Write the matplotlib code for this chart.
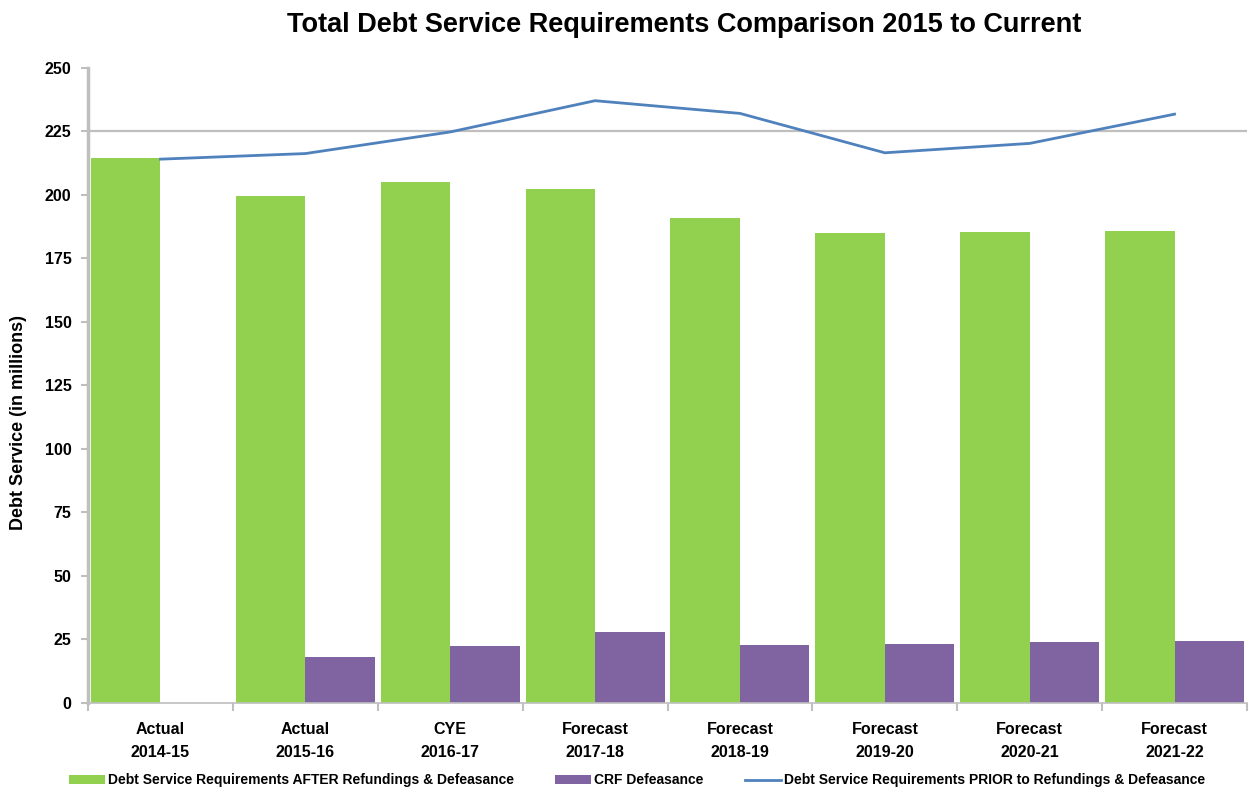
import numpy as np
import matplotlib
matplotlib.use("Agg")
import matplotlib.pyplot as plt

plt.rcParams['font.family'] = ['Liberation Sans', 'DejaVu Sans']

# data
categories = ["Actual\n2014-15", "Actual\n2015-16", "CYE\n2016-17", "Forecast\n2017-18",
              "Forecast\n2018-19", "Forecast\n2019-20", "Forecast\n2020-21", "Forecast\n2021-22"]
after_refunding = [214.4, 199.4, 205.1, 202.2, 190.9, 184.8, 185.4, 185.8]
crf_defeasance = [0, 18.1, 22.3, 27.9, 23.0, 23.4, 24.0, 24.5]
prior_refunding = [214.0, 216.2, 224.7, 237.0, 232.0, 216.5, 220.2, 231.7]
yticks = [0, 25, 50, 75, 100, 125, 150, 175, 200, 225, 250]

green = "#92D050"
purple = "#8064A2"
blue = "#4F81BD"
grey = "#BFBFBF"

fig = plt.figure(figsize=(12.49, 7.96), dpi=100)
ax = fig.add_axes([0.0705, 0.1168, 0.9279, 0.7982])

x = np.arange(len(categories))
w = 0.48
b1 = ax.bar(x - w / 2, after_refunding, w, color=green, zorder=2,
            label="Debt Service Requirements AFTER Refundings & Defeasance")
b2 = ax.bar(x + w / 2, crf_defeasance, w, color=purple, zorder=2, label="CRF Defeasance")
l1, = ax.plot(x, prior_refunding, color=blue, lw=2.0, zorder=3,
              label="Debt Service Requirements PRIOR to Refundings & Defeasance")

ax.axhline(225, color=grey, lw=1.6, zorder=1)

ax.set_xlim(-0.5, len(categories) - 0.5)
ax.set_ylim(0, 250)
ax.set_yticks(yticks)
ax.set_yticklabels([str(t) for t in yticks], fontsize=11.5, fontweight='bold')
ax.set_xticks(x)
ax.set_xticklabels(categories, fontsize=11.5, fontweight='bold', linespacing=1.6)
ax.set_xticks(np.arange(len(categories) + 1) - 0.5, minor=True)
ax.tick_params(axis='x', which='major', length=0, pad=14)
ax.tick_params(axis='x', which='minor', length=6, color=grey, width=1.5)
ax.tick_params(axis='y', length=5, color=grey, width=1.5, pad=7)

for s in ['top', 'right']:
    ax.spines[s].set_visible(False)
ax.spines['left'].set_color(grey)
ax.spines['left'].set_linewidth(2.5)
ax.spines['bottom'].set_color(grey)
ax.spines['bottom'].set_linewidth(1.2)

ax.set_ylabel("Debt Service (in millions)", fontsize=13, fontweight='bold')
ax.yaxis.set_label_coords(-0.053, 0.442)

fig.suptitle("Total Debt Service Requirements Comparison 2015 to Current",
             fontsize=19.5, fontweight='bold', x=0.548, y=0.985)

fig.legend(handles=[b1, b2, l1], loc='lower center', bbox_to_anchor=(0.51, -0.005), ncol=3,
           frameon=False, prop={'size': 10, 'weight': 'bold'}, handlelength=2.6,
           handletextpad=0.2, columnspacing=3.0)

fig.savefig("out.png", dpi=100)
